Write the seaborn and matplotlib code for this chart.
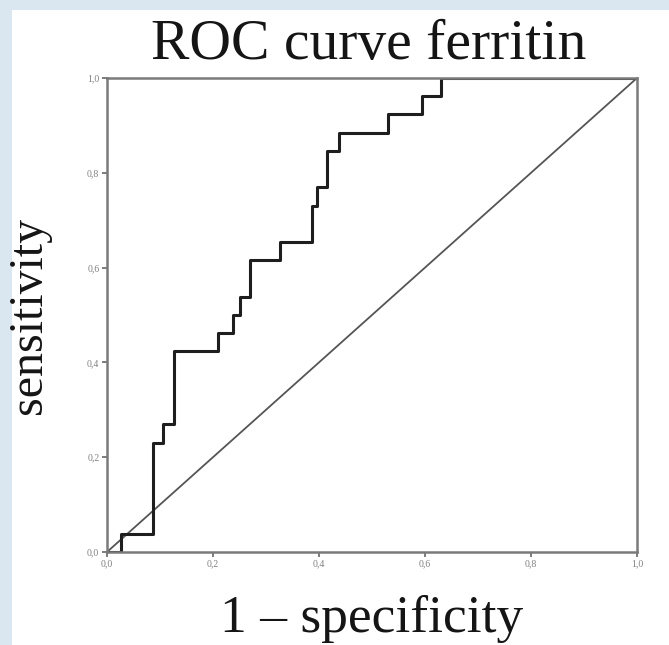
import matplotlib
matplotlib.use("Agg")
import matplotlib.pyplot as plt
from matplotlib.patches import Rectangle
from matplotlib.ticker import FuncFormatter
import seaborn as sns
import pandas as pd

# ---- data ----
title = "ROC curve ferritin"
x_label = "1 \u2013 specificity"
y_label = "sensitivity"
fpr = [0.0, 0.026, 0.086, 0.106, 0.126, 0.210, 0.238, 0.251, 0.269, 0.326,
       0.387, 0.396, 0.415, 0.438, 0.530, 0.594, 0.631, 1.0]
tpr = [0.0, 0.038, 0.231, 0.269, 0.423, 0.462, 0.500, 0.538, 0.615, 0.654,
       0.731, 0.769, 0.846, 0.885, 0.923, 0.962, 1.0, 1.0]
ref_x = [0.0, 1.0]
ref_y = [0.0, 1.0]
tick_values = [0.0, 0.2, 0.4, 0.6, 0.8, 1.0]

sns.set_theme(style="white")
plt.rcParams['font.family'] = ['Liberation Serif', 'DejaVu Serif']

W, H = 669, 645
fig = plt.figure(figsize=(W / 100, H / 100), dpi=100)
fig.patch.set_facecolor("#dbe7f0")
fig.patches.append(Rectangle((12 / W, 0), 1, (H - 10) / H, transform=fig.transFigure,
                             facecolor="white", edgecolor="none", zorder=-10))

ax = fig.add_axes([107 / W, 1 - 552 / H, (637 - 107) / W, (552 - 78) / H])
ax.set_facecolor("white")

roc = pd.DataFrame({"fpr": fpr, "tpr": tpr})
ref = pd.DataFrame({"x": ref_x, "y": ref_y})
sns.lineplot(data=ref, x="x", y="y", ax=ax, color="#555555", linewidth=1.3,
             estimator=None, sort=False)
sns.lineplot(data=roc, x="fpr", y="tpr", ax=ax, color="#1e1e1e", linewidth=2.2,
             estimator=None, sort=False, drawstyle="steps-post")

ax.set_xlim(0, 1)
ax.set_ylim(0, 1)
ax.set_xticks(tick_values)
ax.set_yticks(tick_values)
fmt = FuncFormatter(lambda v, p: f"{v:.1f}".replace(".", ","))
ax.xaxis.set_major_formatter(fmt)
ax.yaxis.set_major_formatter(fmt)
ax.tick_params(axis="both", which="major", direction="out", length=3.5, width=1.2,
               color="#666666", labelsize=7, labelcolor="#808080", pad=2,
               bottom=True, left=True)
for name, sp in ax.spines.items():
    sp.set_visible(True)
    sp.set_color("#7a7a7a")
    sp.set_linewidth(1.8)

ax.set_xlabel(x_label, fontsize=38.5, color="#151515", labelpad=19)
ax.set_ylabel(y_label, fontsize=34.5, color="#151515", labelpad=26)
ax.set_title(title, fontsize=41.5, color="#151515", pad=14, x=(369 - 107) / 530)

fig.savefig("out.png", dpi=100, facecolor=fig.get_facecolor())
